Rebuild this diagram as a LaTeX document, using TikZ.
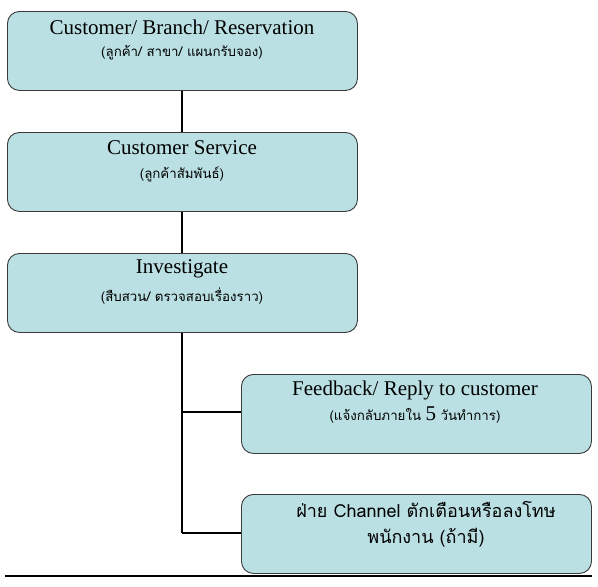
\documentclass[tikz,border=0pt]{standalone}
\usepackage{fontspec}
\setmainfont{Liberation Serif}
\newfontfamily\thaifont[Script=Thai]{Loma}
\definecolor{boxfill}{HTML}{BAE0E3}
\definecolor{boxline}{HTML}{3A3A3A}
\begin{document}
\begin{tikzpicture}[x=1pt,y=-1pt,
  stepbox/.style={draw=boxline,line width=0.9pt,fill=boxfill,rounded corners=12pt,minimum width=350pt,minimum height=79pt,anchor=north west,inner sep=0pt},
  title/.style={font=\fontsize{21}{23}\selectfont,inner sep=0pt},
  sub/.style={font=\thaifont\fontsize{13.3}{15}\selectfont,inner sep=0pt},
  thaibig/.style={font=\thaifont\fontsize{18}{26}\selectfont,inner sep=0pt,align=center},
  conn/.style={line width=2.4pt,black}]
\useasboundingbox (0,0) rectangle (598,587);
\node[stepbox] (b1) at (7,11) {};
\node[stepbox] (b2) at (7,132) {};
\node[stepbox] (b3) at (7,253) {};
\node[stepbox] (b4) at (241,374) {};
\node[stepbox] (b5) at (241,494) {};
\node[title] (t1) at (182,27) {Customer/ Branch/ Reservation};
\node[sub] (s1) at (182,53) {(ลูกค้า/ สาขา/ แผนกรับจอง)};
\node[title] (t2) at (182,148) {Customer Service};
\node[sub] (s2) at (182,174) {(ลูกค้าสัมพันธ์)};
\node[title] (t3) at (182,269) {Investigate};
\node[sub] (s3) at (182,296) {(สืบสวน/ ตรวจสอบเรื่องราว)};
\node[title] (t4) at (415,390) {Feedback/ Reply to customer};
\node[sub] (s4) at (415,415) {(แจ้งกลับภายใน {\rmfamily\fontsize{21}{23}\selectfont 5} วันทำการ)};
\node[thaibig] (t5) at (426,524) {ฝ่าย Channel ตักเตือนหรือลงโทษ\\พนักงาน (ถ้ามี)};
\coordinate (j4) at (182,412);
\coordinate (j5) at (182,533);
\coordinate (l1) at (5,576);
\coordinate (l2) at (592,576);
\draw[conn] (b1.south -| j4) -- (b2.north -| j4);
\draw[conn] (b2.south -| j4) -- (b3.north -| j4);
\draw[conn] (b3.south -| j4) -- (j4) -- (j5);
\draw[conn] (j4) -- (j4 -| b4.west);
\draw[conn] (j5) -- (j5 -| b5.west);
\draw[line width=1.2pt] (l1) -- (l2);
\end{tikzpicture}
\end{document}
